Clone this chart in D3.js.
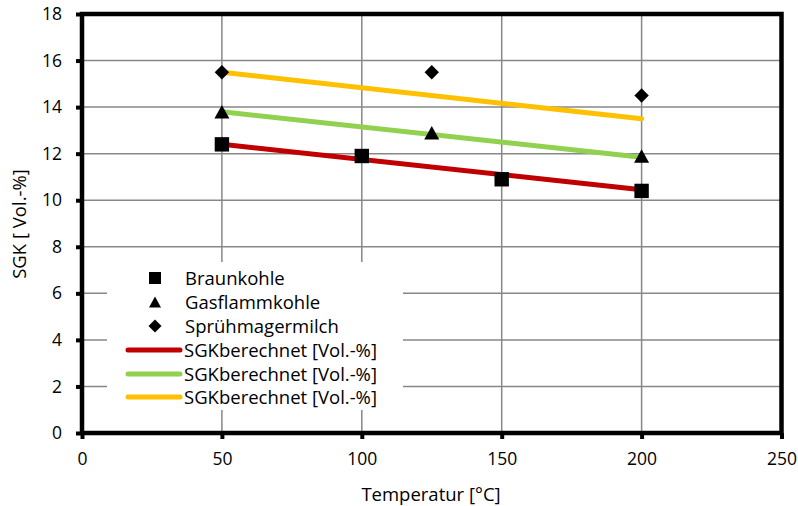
<!DOCTYPE html>
<html>
<head>
<meta charset="utf-8">
<script src="https://cdn.jsdelivr.net/npm/d3@7"></script>
<style>
  html, body { margin: 0; padding: 0; background: #fff; }
  svg { display: block; font-family: "Open Sans", Lato, "Liberation Sans", sans-serif; }
</style>
</head>
<body>
<svg id="chart" width="798" height="506"></svg>
<script>
// Measured points
const braunkohleT = [50, 100, 150, 200];
const braunkohleSGK = [12.4, 11.9, 10.9, 10.4];
const gasflammT = [50, 125, 200];
const gasflammSGK = [13.8, 12.9, 11.9];
const spruehT = [50, 125, 200];
const spruehSGK = [15.5, 15.5, 14.5];

// Calculated SGK lines (start/end)
const calcT = [50, 200];
const calcBraun = [12.4, 10.45];
const calcGas = [13.8, 11.85];
const calcSpruehe = [15.5, 13.5];

const xTicks = [0, 50, 100, 150, 200, 250];
const yTicks = [0, 2, 4, 6, 8, 10, 12, 14, 16, 18];

const seriesNames = ["Braunkohle", "Gasflammkohle", "Sprühmagermilch"];
const lineName = "SGKberechnet [Vol.-%]";
const lineColors = ["#c00000", "#92d050", "#ffc000"];

const svg = d3.select("#chart");
const plotLeft = 82, plotRight = 781.5, plotTop = 14, plotBottom = 433;

const x = d3.scaleLinear().domain([0, 250]).range([plotLeft, plotRight]);
const y = d3.scaleLinear().domain([0, 18]).range([plotBottom, plotTop]);

// Gridlines
const grid = svg.append("g");
grid.selectAll("line.h").data(yTicks.slice(1, -1)).join("line")
  .attr("x1", plotLeft).attr("x2", plotRight)
  .attr("y1", d => y(d)).attr("y2", d => y(d))
  .attr("stroke", "#878787").attr("stroke-width", 1.5);
grid.selectAll("line.v").data(xTicks.slice(1, -1)).join("line")
  .attr("x1", d => x(d)).attr("x2", d => x(d))
  .attr("y1", plotTop).attr("y2", plotBottom)
  .attr("stroke", "#878787").attr("stroke-width", 1.5);

// Axes with outward ticks
const xAxis = svg.append("g").attr("transform", `translate(0,${plotBottom})`)
  .call(d3.axisBottom(x).tickValues(xTicks).tickSize(6).tickPadding(14));
const yAxis = svg.append("g").attr("transform", `translate(${plotLeft},0)`)
  .call(d3.axisLeft(y).tickValues(yTicks).tickSize(6).tickPadding(14));
[xAxis, yAxis].forEach(a => {
  a.select(".domain").remove();
  a.selectAll(".tick line").attr("stroke", "#000").attr("stroke-width", 4);
  a.selectAll(".tick text").attr("fill", "#000")
    .style("font-size", "17.5px").style("font-family", "'Open Sans', Lato, sans-serif");
});

// Frame
svg.append("rect")
  .attr("x", plotLeft).attr("y", plotTop)
  .attr("width", plotRight - plotLeft).attr("height", plotBottom - plotTop)
  .attr("fill", "none").attr("stroke", "#000").attr("stroke-width", 4.5);

// Calculated lines
const lineGen = d3.line().x(d => x(d[0])).y(d => y(d[1]));
[calcBraun, calcGas, calcSpruehe].forEach((vals, i) => {
  svg.append("path")
    .datum(calcT.map((t, j) => [t, vals[j]]))
    .attr("d", lineGen)
    .attr("fill", "none")
    .attr("stroke", lineColors[i])
    .attr("stroke-width", 5)
    .attr("stroke-linecap", "round");
});

// Marker shapes: square, bounding-box-centred triangle, 45° diamond
const squareType = { draw(ctx, r) { ctx.rect(-r, -r, 2 * r, 2 * r); } };
const triangleType = { draw(ctx, r) {
  const h = r * 0.9;
  ctx.moveTo(0, -h); ctx.lineTo(r, h); ctx.lineTo(-r, h); ctx.closePath();
} };
const diamondType = { draw(ctx, r) {
  ctx.moveTo(0, -r); ctx.lineTo(r, 0); ctx.lineTo(0, r); ctx.lineTo(-r, 0); ctx.closePath();
} };
const markerTypes = [squareType, triangleType, diamondType];
const plotSizes = [7.2, 7.5, 7.2];
const legendSizes = [6, 6, 6.5];

function drawMarkers(ts, vs, k) {
  const sym = d3.symbol().type(markerTypes[k]).size(plotSizes[k]);
  svg.append("g").selectAll("path")
    .data(ts.map((t, i) => [t, vs[i]]))
    .join("path")
    .attr("d", sym)
    .attr("transform", d => `translate(${x(d[0])},${y(d[1])})`)
    .attr("fill", "#000");
}
drawMarkers(braunkohleT, braunkohleSGK, 0);
drawMarkers(gasflammT, gasflammSGK, 1);
drawMarkers(spruehT, spruehSGK, 2);

// Legend
const leg = svg.append("g");
leg.append("rect")
  .attr("x", 107).attr("y", 262).attr("width", 296).attr("height", 148)
  .attr("fill", "#fff");
const rowY = [278, 302, 326, 350, 374, 397];
markerTypes.forEach((t, i) => {
  leg.append("path")
    .attr("d", d3.symbol().type(t).size(legendSizes[i]))
    .attr("transform", `translate(155,${rowY[i]})`)
    .attr("fill", "#000");
  leg.append("text")
    .attr("x", 185).attr("y", rowY[i]).attr("dy", "0.36em")
    .style("font-size", "18.5px").text(seriesNames[i]);
});
lineColors.forEach((c, i) => {
  const yy = rowY[i + 3];
  leg.append("line")
    .attr("x1", 128).attr("x2", 180).attr("y1", yy).attr("y2", yy)
    .attr("stroke", c).attr("stroke-width", 5).attr("stroke-linecap", "round");
  leg.append("text")
    .attr("x", 184).attr("y", yy).attr("dy", "0.36em")
    .style("font-size", "18.5px").text(lineName);
});

// Axis titles
svg.append("text")
  .attr("x", 431).attr("y", 501)
  .attr("text-anchor", "middle")
  .style("font-size", "18.5px")
  .text("Temperatur [°C]");
svg.append("text")
  .attr("transform", "translate(26,224) rotate(-90)")
  .attr("text-anchor", "middle")
  .style("font-size", "18.5px")
  .text("SGK [ Vol.-%]");
</script>
</body>
</html>
